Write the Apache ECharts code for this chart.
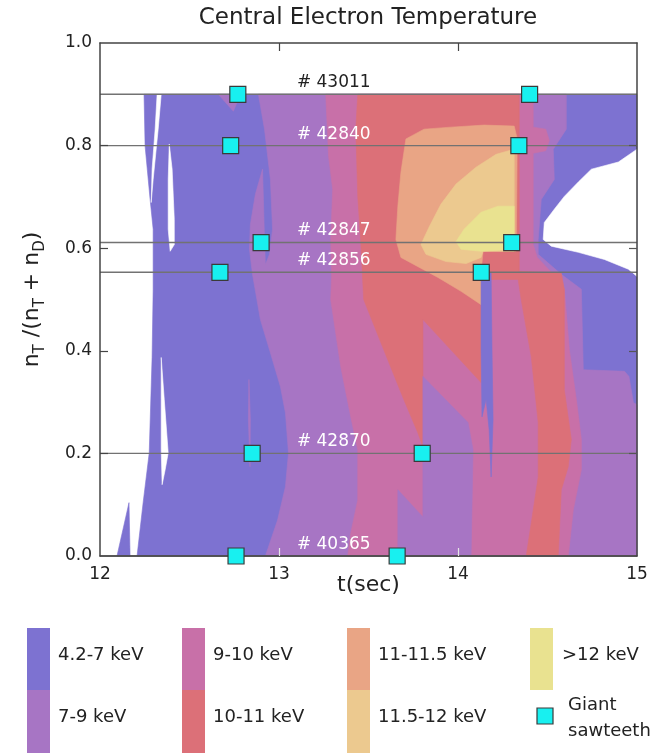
<!DOCTYPE html>
<html>
<head>
<meta charset="utf-8">
<script src="https://cdn.jsdelivr.net/npm/echarts@6/dist/echarts.min.js"></script>
<style>
html, body { margin: 0; padding: 0; background: #fff; }
#chart { width: 661px; height: 753px; }
</style>
</head>
<body>
<div id="chart"></div>
<script>
var FONT = '"DejaVu Sans", sans-serif';

// temperature bands
var bandNames = ['4.2-7 keV', '7-9 keV', '9-10 keV', '10-11 keV', '11-11.5 keV', '11.5-12 keV', '>12 keV'];
var bandColors = ['#7d72d1', '#a775c4', '#c870a8', '#dc7078', '#e9a585', '#ecc98f', '#e9e290'];

// shots (horizontal lines) and giant sawteeth times
var shotNames = ['# 43011', '# 42840', '# 42847', '# 42856', '# 42870', '# 40365'];
var shotY = [0.9, 0.8, 0.611, 0.553, 0.2, 0.0];
var sawT = [12.77, 14.40, 12.73, 14.34, 12.90, 14.30, 12.67, 14.13, 12.85, 13.80, 12.76, 13.66];
var sawY = [0.9, 0.9, 0.8, 0.8, 0.611, 0.611, 0.553, 0.553, 0.2, 0.2, 0.0, 0.0];

// contour regions, [t (s), nT/(nT+nD)]
var blueBase = [[12.246,0.9],[15,0.9],[15,0],[12.207,0],[12.241,0.104],[12.275,0.201],[12.291,0.387],[12.297,0.52],[12.297,0.637],[12.28,0.695],[12.252,0.799],[12.246,0.9]];
var blueCorner = [[12.095,0],[12.162,0.104],[12.168,0]];
var whiteA = [[12.319,0.9],[12.342,0.9],[12.325,0.832],[12.297,0.734],[12.286,0.689],[12.291,0.754],[12.308,0.832]];
var whiteB = [[12.387,0.803],[12.403,0.754],[12.415,0.656],[12.415,0.607],[12.392,0.594],[12.381,0.637],[12.381,0.734]];
var whiteC = [[12.342,0.387],[12.359,0.305],[12.381,0.201],[12.364,0.168],[12.347,0.139],[12.342,0.207],[12.342,0.305]];
var whiteRight = [[15,0.793],[14.896,0.768],[14.745,0.754],[14.672,0.729],[14.594,0.701],[14.538,0.676],[14.482,0.65],[14.476,0.617],[14.521,0.604],[14.672,0.592],[14.818,0.578],[14.952,0.559],[15,0.545]];
var above7 = [[12.885,0.9],[12.919,0.832],[12.952,0.734],[12.964,0.637],[12.947,0.588],[12.924,0.568],[12.919,0.617],[12.913,0.695],[12.908,0.754],[12.868,0.705],[12.84,0.646],[12.835,0.598],[12.852,0.549],[12.896,0.461],[12.952,0.396],[13.008,0.33],[13.036,0.279],[13.053,0.201],[13.036,0.135],[12.992,0.07],[12.924,0],[15,0],[15,0.295],[14.98,0.299],[14.955,0.35],[14.93,0.36],[14.70,0.363],[14.689,0.52],[14.577,0.549],[14.448,0.588],[14.448,0.617],[14.465,0.695],[14.538,0.734],[14.532,0.793],[14.605,0.832],[14.605,0.9]];
var wedge7Top = [[12.661,0.9],[12.745,0.867],[12.784,0.9]];
var sliver7 = [[12.832,0.344],[12.84,0.266],[12.838,0.174],[12.829,0.266]];
var above9 = [[13.261,0.9],[13.277,0.779],[13.3,0.715],[13.289,0.617],[13.294,0.545],[13.289,0.5],[13.345,0.369],[13.401,0.271],[13.44,0.207],[13.44,0.109],[13.401,0.045],[13.384,0],[14.616,0],[14.644,0.09],[14.689,0.168],[14.689,0.227],[14.661,0.305],[14.622,0.402],[14.594,0.52],[14.549,0.543],[14.443,0.582],[14.42,0.607],[14.42,0.785],[14.49,0.79],[14.51,0.81],[14.49,0.832],[14.42,0.836],[14.42,0.9]];
var above10 = [[13.44,0.9],[14.342,0.9],[14.342,0.555],[14.577,0.551],[14.594,0.52],[14.594,0.324],[14.633,0.227],[14.616,0.174],[14.577,0.129],[14.56,0],[14.381,0],[14.409,0.064],[14.448,0.154],[14.448,0.26],[14.409,0.389],[14.353,0.5],[14.336,0.539],[14.129,0.539],[14.129,0.338],[13.804,0.461],[13.804,0.213],[13.776,0.24],[13.697,0.305],[13.585,0.402],[13.473,0.5],[13.457,0.611],[13.44,0.701],[13.429,0.832]];
var notch79 = [[13.804,0.35],[14.056,0.26],[14.084,0.207],[14.073,0],[13.664,0],[13.664,0.129],[13.804,0.076]];
var above11 = [[13.709,0.813],[13.81,0.832],[13.961,0.836],[14.146,0.84],[14.314,0.838],[14.331,0.813],[14.325,0.594],[14.14,0.594],[14.129,0.553],[14.129,0.49],[14.017,0.516],[13.888,0.543],[13.681,0.582],[13.653,0.617],[13.664,0.682],[13.681,0.748]];
var above115 = [[14.314,0.793],[14.213,0.783],[14.101,0.758],[13.989,0.725],[13.905,0.686],[13.838,0.641],[13.793,0.607],[13.821,0.588],[13.933,0.574],[14.045,0.57],[14.129,0.582],[14.14,0.594],[14.314,0.594]];
var above12 = [[14.314,0.682],[14.224,0.682],[14.129,0.67],[14.034,0.637],[13.989,0.613],[14.017,0.598],[14.129,0.594],[14.314,0.598]];
var spikeBlue = [[14.129,0.553],[14.185,0.553],[14.19,0.402],[14.196,0.266],[14.185,0.154],[14.174,0.246],[14.157,0.305],[14.134,0.271],[14.129,0.402]];

// painting order: [region, band index] (-1 = no data / white)
var layers = [
	[blueBase, 0], [blueCorner, 0],
	[whiteA, -1], [whiteB, -1], [whiteC, -1], [whiteRight, -1],
	[above7, 1], [wedge7Top, 1], [sliver7, 1],
	[above9, 2], [above10, 3], [notch79, 1],
	[above11, 4], [above115, 5], [above12, 6],
	[spikeBlue, 0]
];

var dom = document.getElementById('chart');
var myChart = echarts.init(dom, null, { renderer: 'canvas' });

function frameAxis(extra) {
	var a = {
		type: 'value',
		z: 10,
		splitLine: { show: false },
		axisLine: { show: true, onZero: false, lineStyle: { color: '#444', width: 1.5 } },
		axisTick: { show: true, inside: true, length: 8, lineStyle: { color: '#444', width: 1.2 } },
		axisLabel: { show: false }
	};
	for (var k in extra) a[k] = extra[k];
	return a;
}

var saw = sawT.map(function (t, i) { return [t, sawY[i]]; });

var option = {
	animation: false,
	backgroundColor: '#fff',
	grid: { left: 100, right: 24, top: 43, bottom: 197, outerBoundsMode: 'none' },
	xAxis: [
		frameAxis({
			position: 'bottom', min: 12, max: 15, interval: 1,
			axisTick: { show: true, inside: true, length: 8, customValues: [13, 14], lineStyle: { color: '#e6e6e6', width: 1.2 } },
			axisLabel: { show: true, fontSize: 17, color: '#222', margin: 10, fontFamily: FONT },
			name: 't(sec)', nameLocation: 'middle', nameGap: 18, nameMoveOverlap: false,
			nameTextStyle: { fontSize: 22, color: '#222', fontFamily: FONT, verticalAlign: 'top' }
		}),
		frameAxis({
			position: 'top', min: 12, max: 15, interval: 1,
			axisTick: { show: true, inside: true, length: 8, customValues: [13, 14], lineStyle: { color: '#444', width: 1.2 } }
		})
	],
	yAxis: [
		frameAxis({
			position: 'left', min: 0, max: 1, interval: 0.2,
			axisTick: { show: true, inside: true, length: 8, customValues: [0.2, 0.4, 0.6, 0.8], lineStyle: { color: '#444', width: 1.2 } },
			axisLabel: { show: true, fontSize: 17, color: '#222', margin: 8, fontFamily: FONT,
				formatter: function (v) { return v.toFixed(1); } },
			name: '{a|n}{b|T}{a| /(n}{b|T}{a| + n}{b|D}{a|)}',
			nameLocation: 'middle', nameRotate: 90, nameGap: 52, nameMoveOverlap: false,
			nameTextStyle: {
				color: '#222', fontFamily: FONT,
				rich: {
					a: { fontSize: 22, lineHeight: 32, verticalAlign: 'middle', color: '#222', fontFamily: FONT },
					b: { fontSize: 15, lineHeight: 32, verticalAlign: 'bottom', color: '#222', fontFamily: FONT }
				}
			}
		}),
		frameAxis({
			position: 'right', min: 0, max: 1, interval: 0.2,
			axisTick: { show: true, inside: true, length: 8, customValues: [0.2, 0.4, 0.6, 0.8], lineStyle: { color: '#555', width: 1.2 } }
		})
	],
	graphic: [],
	series: [
		{
			type: 'custom',
			z: 2,
			silent: true,
			data: layers.map(function (l, i) { return [l[0][0][0], l[0][0][1], i]; }),
			renderItem: function (params, api) {
				var l = layers[params.dataIndex];
				var col = l[1] < 0 ? '#ffffff' : bandColors[l[1]];
				var pts = l[0].map(function (p) { return api.coord(p); });
				return { type: 'polygon', shape: { points: pts }, style: { fill: col, stroke: col, lineWidth: 0.6 } };
			}
		},
		{
			type: 'custom',
			z: 3,
			silent: true,
			data: shotY.map(function (y, i) { return [12, y, i]; }),
			renderItem: function (params, api) {
				var i = params.dataIndex;
				var p0 = api.coord([12, shotY[i]]);
				var p1 = api.coord([15, shotY[i]]);
				var pl = api.coord([13.1, shotY[i]]);
				return {
					type: 'group',
					children: [
						{ type: 'line', shape: { x1: p0[0], y1: p0[1], x2: p1[0], y2: p1[1] },
							style: { stroke: '#727272', lineWidth: 1.4 } },
						{ type: 'text', x: pl[0], y: pl[1] - 3,
							style: { text: shotNames[i], fill: i === 0 ? '#222' : '#ffffff',
								font: '17px ' + FONT, align: 'left', verticalAlign: 'bottom' } }
					]
				};
			}
		},
		{
			type: 'scatter',
			name: 'Giant sawteeth',
			z: 12,
			clip: false,
			symbol: 'rect',
			symbolSize: 16,
			itemStyle: { color: '#18f0f0', borderColor: '#3a3a3a', borderWidth: 1.2, opacity: 1 },
			data: saw
		}
	]
};

// title
option.graphic.push({
	type: 'text', x: 368, y: 18, z: 20,
	style: { text: 'Central Electron Temperature', font: '23px ' + FONT, fill: '#222', align: 'center', verticalAlign: 'middle' }
});

// legend made of colour bars
var legCol = [27, 182, 347, 530];
var legTextX = [58, 213, 378, 562];
for (var b = 0; b < bandNames.length; b++) {
	var c = Math.floor(b / 2), r = b % 2;
	option.graphic.push({
		type: 'rect', x: legCol[c], y: r === 0 ? 628 : 690, z: 20,
		shape: { width: 23, height: r === 0 ? 62 : 63 },
		style: { fill: bandColors[b] }
	});
	option.graphic.push({
		type: 'text', x: legTextX[c], y: r === 0 ? 655 : 717, z: 20,
		style: { text: bandNames[b], font: '18px ' + FONT, fill: '#222', align: 'left', verticalAlign: 'middle' }
	});
}
option.graphic.push({
	type: 'rect', x: 537, y: 708, z: 20,
	shape: { width: 16, height: 16 },
	style: { fill: '#18f0f0', stroke: '#3a3a3a', lineWidth: 1.2 }
});
option.graphic.push({
	type: 'text', x: 568, y: 705, z: 20,
	style: { text: 'Giant', font: '18px ' + FONT, fill: '#222', align: 'left', verticalAlign: 'middle' }
});
option.graphic.push({
	type: 'text', x: 568, y: 731, z: 20,
	style: { text: 'sawteeth', font: '18px ' + FONT, fill: '#222', align: 'left', verticalAlign: 'middle' }
});

myChart.setOption(option, true);
</script>
</body>
</html>
